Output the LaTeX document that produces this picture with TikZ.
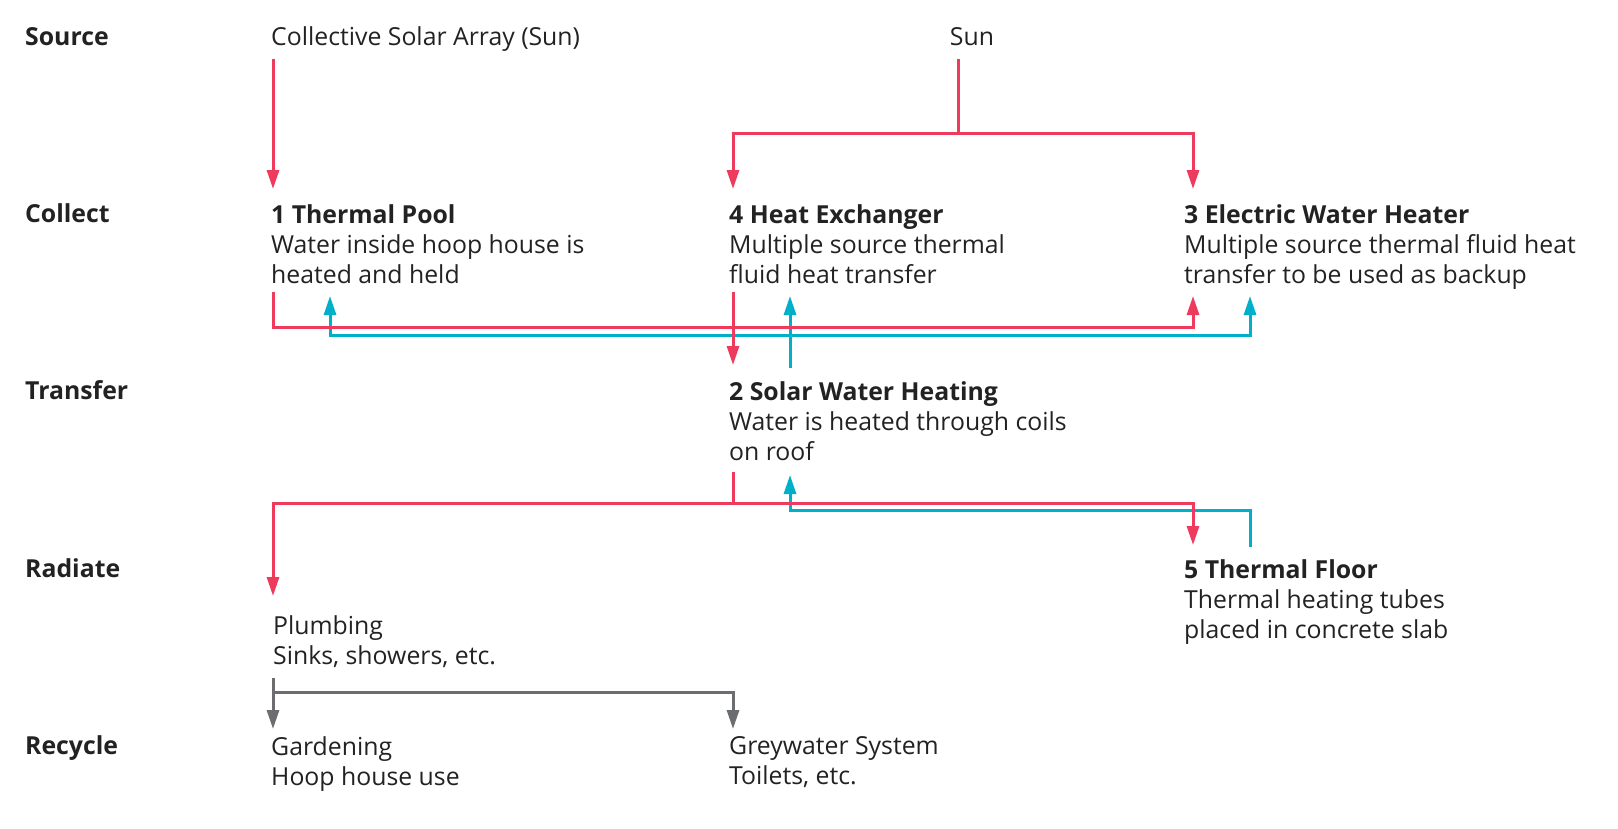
\documentclass[tikz,border=0pt]{standalone}
\usepackage{fontspec}
\setmainfont{Open Sans}
\usetikzlibrary{arrows.meta}
\definecolor{cred}{HTML}{EE3A5C}
\definecolor{cblue}{HTML}{00AFC9}
\definecolor{cgrey}{HTML}{6C6D70}
\definecolor{ctext}{HTML}{222222}
\begin{document}
\begin{tikzpicture}[x=1pt,y=-1pt,
  txt/.style={anchor=north west,inner sep=0pt,align=left,text=ctext,
    font=\fontsize{24.8}{30}\selectfont},
  lbl/.style={anchor=base west,inner sep=0pt,text=ctext,
    font=\fontsize{24.8}{30}\selectfont\bfseries},
  plain/.style={anchor=base west,inner sep=0pt,text=ctext,
    font=\fontsize{24.8}{30}\selectfont},
  flow/.style={line width=3pt,-{Triangle[length=19pt,width=12pt]}},
  flow2/.style={line width=3pt,{Triangle[length=19pt,width=12pt]}-{Triangle[length=19pt,width=12pt]}},
  line/.style={line width=3pt}]
\useasboundingbox (0,0) rectangle (1618,828);
% row labels
\node[lbl] (lsrc) at (25,45) {Source};
\node[lbl] (lcol) at (25,222) {Collect};
\node[lbl] (ltr) at (25,399.5) {Transfer};
\node[lbl] (lrad) at (25,577) {Radiate};
\node[lbl] (lrec) at (25,754) {Recycle};
% source texts
\node[plain] (srcA) at (271,45) {Collective Solar Array (Sun)};
\node[plain,anchor=base] (sun) at (972,45) {Sun};
% collect
\node[txt] (pool) at (271,204) {\textbf{1 Thermal Pool}\\Water inside hoop house is\\heated and held};
\node[txt] (hx) at (729,204) {\textbf{4 Heat Exchanger}\\Multiple source thermal\\fluid heat transfer};
\node[txt] (ewh) at (1184,204) {\textbf{3 Electric Water Heater}\\Multiple source thermal fluid heat\\transfer to be used as backup};
% transfer
\node[txt] (swh) at (729,381.5) {\textbf{2 Solar Water Heating}\\Water is heated through coils\\on roof};
% radiate
\node[txt] (floor) at (1184,559) {\textbf{5 Thermal Floor}\\Thermal heating tubes\\placed in concrete slab};
\node[txt] (plumb) at (273,615) {Plumbing\\Sinks, showers, etc.};
% recycle
\node[txt] (garden) at (271,736) {Gardening\\Hoop house use};
\node[txt] (grey) at (729,736) {Greywater System\\Toilets, etc.};
% coordinates
\coordinate (srcOut) at (273,59);
\coordinate (poolIn) at (273,189);
\coordinate (sunOut) at (958,59);
\coordinate (sunJ) at (958,133);
\coordinate (hxIn) at (733,189);
\coordinate (ewhIn) at (1193,189);
\coordinate (poolOut) at (273,292);
\coordinate (ewhInR) at (1193,296);
\coordinate (poolInB) at (330,296);
\coordinate (ewhInB) at (1250,296);
\coordinate (hxOut) at (733,292);
\coordinate (swhIn) at (733,365);
\coordinate (swhOutB) at (790,368);
\coordinate (hxInB) at (790,296);
\coordinate (swhOut) at (733,472);
\coordinate (plumbIn) at (273,596);
\coordinate (floorIn) at (1193,545);
\coordinate (floorOut) at (1250,547);
\coordinate (swhInB) at (790,475);
\coordinate (plumbOut) at (273,678);
\coordinate (gardenIn) at (273,729);
\coordinate (greyIn) at (733,729);
% blue connectors
\draw[flow2,cblue] (poolInB) -- ++(0,39) -| (ewhInB);
\draw[flow,cblue] (swhOutB) -- (hxInB);
\draw[flow,cblue] (floorOut) -- ++(0,-37) -| (swhInB);
% red connectors
\draw[flow,cred] (srcOut) -- (poolIn);
\draw[line,cred] (sunOut) -- (sunJ);
\draw[flow,cred] (sunJ) -| (hxIn);
\draw[flow,cred] (sunJ) -| (ewhIn);
\draw[flow,cred] (poolOut) -- ++(0,35) -| (ewhInR);
\draw[flow,cred] (hxOut) -- (swhIn);
\draw[line,cred] (swhOut) -- ++(0,31) coordinate (swhJ);
\draw[flow,cred] (swhJ) -| (plumbIn);
\draw[flow,cred] (swhJ) -| (floorIn);
% grey connectors
\draw[flow,cgrey] (plumbOut) -- (gardenIn);
\draw[flow,cgrey] (plumbOut) ++(0,14) -| (greyIn);
\end{tikzpicture}
\end{document}
